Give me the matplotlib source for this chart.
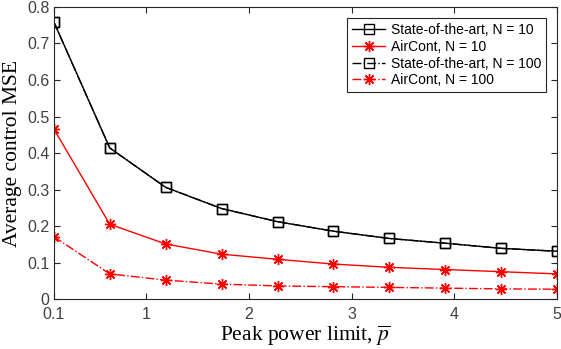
import numpy as np
import matplotlib.pyplot as plt

# peak power limit samples (10 points from 0.1 to 5)
p_peak = [0.1, 0.644, 1.189, 1.733, 2.278, 2.822, 3.367, 3.911, 4.456, 5.0]

sota_n10 = [0.759, 0.414, 0.306, 0.248, 0.212, 0.186, 0.166, 0.153, 0.139, 0.131]
sota_n100 = [0.759, 0.414, 0.306, 0.248, 0.212, 0.186, 0.166, 0.153, 0.139, 0.131]
aircont_n10 = [0.466, 0.205, 0.151, 0.123, 0.109, 0.096, 0.087, 0.081, 0.075, 0.069]
aircont_n100 = [0.171, 0.069, 0.052, 0.041, 0.036, 0.034, 0.032, 0.030, 0.028, 0.027]

labels = ["State-of-the-art, N = 10", "AirCont, N = 10",
          "State-of-the-art, N = 100", "AirCont, N = 100"]

plt.rcParams['mathtext.fontset'] = 'stix'
plt.rcParams['font.family'] = 'Liberation Sans'

fig = plt.figure(figsize=(5.61, 3.49), dpi=100)
ax = fig.add_axes([0.096, 0.143, 0.897, 0.837])

star = (8, 2, 0)
ax.plot(p_peak, sota_n10, '-', color='k', marker='s', mfc='none', ms=7, mew=1.0, lw=1.0, label=labels[0])
ax.plot(p_peak, aircont_n10, '-', color='r', marker=star, ms=8, mew=1.0, lw=1.0, label=labels[1])
ax.plot(p_peak, sota_n100, '-.', color='k', marker='s', mfc='none', ms=7, mew=1.0, lw=1.0, label=labels[2])
ax.plot(p_peak, aircont_n100, '-.', color='r', marker=star, ms=8, mew=1.0, lw=1.0, label=labels[3])

ax.set_xlim(0.1, 5)
ax.set_ylim(0, 0.8)
ax.set_xticks([0.1, 1, 2, 3, 4, 5])
ax.set_xticklabels(['0.1', '1', '2', '3', '4', '5'])
ax.set_yticks(np.arange(0, 0.81, 0.1))
ax.set_yticklabels(['0', '0.1', '0.2', '0.3', '0.4', '0.5', '0.6', '0.7', '0.8'])
ax.tick_params(direction='in', top=True, right=True, labelsize=11.5, colors='#262626',
               labelcolor='#404040', length=4)
ax.tick_params(axis='x', pad=6)
ax.tick_params(axis='y', pad=3)
for s in ax.spines.values():
    s.set_color('#262626')
    s.set_linewidth(0.8)

ax.set_xlabel(r'Peak power limit, $\overline{p}$', family='Liberation Serif', fontsize=15.5, labelpad=1)
ax.set_ylabel('Average control MSE', family='Liberation Serif', fontsize=15.5, labelpad=4)

leg = ax.legend(loc='upper right', fontsize=10, fancybox=False, framealpha=1,
                edgecolor='#262626', handlelength=2.4, borderpad=0.35, labelspacing=0.2,
                handletextpad=0.4, borderaxespad=0.8)
leg.get_frame().set_linewidth(0.8)

fig.savefig('out.png', dpi=100)
